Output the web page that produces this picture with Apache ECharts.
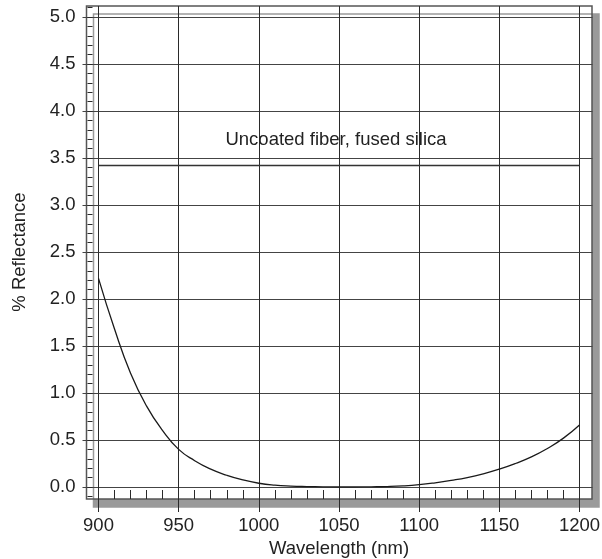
<!DOCTYPE html>
<html>
<head>
<meta charset="utf-8">
<script src="https://cdn.jsdelivr.net/npm/echarts@6/dist/echarts.min.js"></script>
<style>html,body{margin:0;padding:0;background:#fff}#c{width:602px;height:559px}</style>
</head>
<body>
<div id="c"></div>
<script>
const wavelengths = [900,910,920,930,940,950,960,970,980,990,1000,1010,1020,1030,1040,1050,1060,1070,1080,1090,1100,1110,1120,1130,1140,1150,1160,1170,1180,1190,1200];
const reflectance = [2.22,1.68,1.21,0.86,0.60,0.40,0.28,0.19,0.125,0.075,0.04,0.02,0.01,0.005,0.002,0.0,0.0,0.002,0.005,0.012,0.025,0.045,0.07,0.10,0.14,0.19,0.25,0.32,0.41,0.52,0.66];
const uncoatedX = [900,1200];
const uncoatedY = [3.42,3.42];
const uncoatedLabel = 'Uncoated fiber, fused silica';
const xTickLabels = ['900','950','1000','1050','1100','1150','1200'];
const yTickLabels = ['0.0','0.5','1.0','1.5','2.0','2.5','3.0','3.5','4.0','4.5','5.0'];

const FONT = "'Liberation Sans', Arial, sans-serif";
const FS = 18.5;
const DARK = '#2a2a2a';
const chart = echarts.init(document.getElementById('c'));

const hiddenAxis = (extra) => Object.assign({type:'value', show:true, axisLine:{show:false, onZero:false}, axisLabel:{show:false}, splitLine:{show:false}, axisTick:{show:false}}, extra);
const dataGrid = {left:98.5, right:22.5, top:17, bottom:72, outerBoundsMode:'none', containLabel:false};

chart.setOption({
  animation:false,
  backgroundColor:'#fff',
  grid:[
    {left:86.5, right:10, top:6, bottom:60, outerBoundsMode:'none', containLabel:false, show:true, backgroundColor:'#fff', borderColor:'#555', borderWidth:1.5,
     shadowColor:'#9a9a9a', shadowOffsetX:7, shadowOffsetY:8, shadowBlur:0},
    Object.assign({}, dataGrid),
    Object.assign({}, dataGrid),
    Object.assign({}, dataGrid),
    Object.assign({}, dataGrid),
    {left:98.5, right:22.5, top:7.6, bottom:62.6, outerBoundsMode:'none', containLabel:false}
  ],
  xAxis:[
    hiddenAxis({gridIndex:0, min:0, max:1, show:false}),
    // grid 1: main x axis with labels and vertical grid lines
    {type:'value', gridIndex:1, min:900, max:1200, interval:50, position:'bottom', offset:12,
     axisLine:{show:false, onZero:false}, axisTick:{show:false},
     axisLabel:{margin:17, fontSize:FS, color:'#222', fontFamily:FONT, formatter:(v)=>{const i=(v-900)/50; return xTickLabels[i]||'';}},
     splitLine:{show:true, lineStyle:{color:DARK, width:1}},
     name:'Wavelength (nm)', nameLocation:'middle', nameGap:35,
     nameTextStyle:{fontSize:FS, color:'#222', fontFamily:FONT}},
    // grid 2: grid line extension above
    hiddenAxis({gridIndex:2, min:900, max:1200, interval:50, position:'top', offset:0,
     axisTick:{show:true, inside:false, length:11, lineStyle:{color:DARK, width:1}}}),
    // grid 3: grid line extension below
    hiddenAxis({gridIndex:3, min:900, max:1200, interval:50, position:'bottom', offset:0,
     axisTick:{show:true, inside:false, length:25, lineStyle:{color:DARK, width:1}}}),
    // grid 4: minor ticks on bottom frame
    hiddenAxis({gridIndex:4, min:900, max:1200, interval:10, position:'bottom', offset:12,
     axisTick:{show:true, inside:true, length:9, lineStyle:{color:DARK, width:1}}}),
    hiddenAxis({gridIndex:5, min:900, max:1200, show:false})
  ],
  yAxis:[
    hiddenAxis({gridIndex:0, min:0, max:1, show:false}),
    {type:'value', gridIndex:1, min:0, max:5, interval:0.5, position:'left', offset:11,
     axisLine:{show:false, onZero:false}, axisTick:{show:false},
     axisLabel:{margin:12, fontSize:FS, color:'#222', fontFamily:FONT, formatter:(v)=>{const i=Math.round(v/0.5); return yTickLabels[i]||'';}},
     splitLine:{show:true, lineStyle:{color:'#444', width:1}},
     name:'% Reflectance', nameLocation:'middle', nameRotate:90, nameGap:58,
     nameTextStyle:{fontSize:FS, color:'#222', fontFamily:FONT}},
    // grid 2: extension to the right
    hiddenAxis({gridIndex:2, min:0, max:5, interval:0.5, position:'right', offset:0,
     axisTick:{show:true, inside:false, length:13, lineStyle:{color:'#444', width:1}}}),
    // grid 3: extension to the left
    hiddenAxis({gridIndex:3, min:0, max:5, interval:0.5, position:'left', offset:0,
     axisTick:{show:true, inside:false, length:16, lineStyle:{color:'#444', width:1}}}),
    hiddenAxis({gridIndex:4, min:0, max:5, show:false}),
    // grid 5: minor ticks on left frame
    hiddenAxis({gridIndex:5, min:-0.1, max:5.1, interval:0.1, position:'left', offset:11,
     axisTick:{show:true, inside:true, length:5, lineStyle:{color:DARK, width:1}}})
  ],
  series:[
    {type:'line', xAxisIndex:1, yAxisIndex:1, data:wavelengths.map((w,i)=>[w,reflectance[i]]),
     smooth:0.5, showSymbol:false, symbol:'none',
     lineStyle:{color:'#1a1a1a', width:1.3}, z:5},
    {type:'line', xAxisIndex:1, yAxisIndex:1, data:uncoatedX.map((w,i)=>[w,uncoatedY[i]]),
     showSymbol:false, symbol:'none', lineStyle:{color:'#333', width:1.4}, z:5,
     markPoint:{symbol:'circle', symbolSize:0, silent:true,
       data:[{coord:[1050,3.42], value:uncoatedLabel}],
       label:{show:true, position:'inside', offset:[-3,-26], formatter:uncoatedLabel, fontSize:FS, color:'#222', fontFamily:FONT}}}
  ]
});
</script>
</body>
</html>
